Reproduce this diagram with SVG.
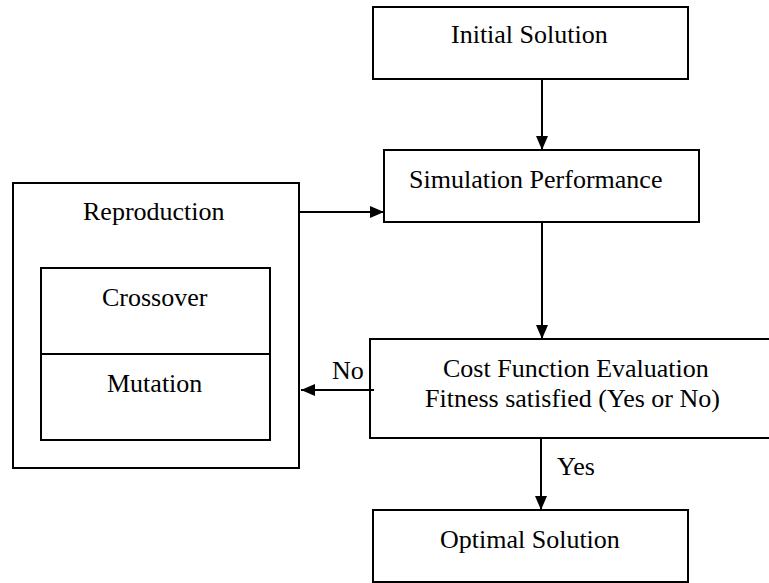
<svg xmlns="http://www.w3.org/2000/svg" width="769" height="583" viewBox="0 0 769 583">
<style>
rect{fill:#fff;stroke:#000;stroke-width:2}
.c line{stroke:#000;stroke-width:2}
</style>
<defs>
<marker id="ah" markerWidth="14" markerHeight="12" refX="14" refY="6" orient="auto" markerUnits="userSpaceOnUse">
<path d="M0,0 L14,6 L0,12 Z" fill="#000"/>
</marker>
</defs>
<rect width="769" height="583" style="stroke:none"/>
<g id="initial"><rect x="373" y="7" width="315" height="72"/><text font-family="Liberation Serif" font-size="26" x="451" y="43">Initial Solution</text></g>
<g id="simulation"><rect x="384" y="150" width="315" height="72"/><text font-family="Liberation Serif" font-size="26" x="409" y="188">Simulation Performance</text></g>
<g id="reproduction"><rect x="13" y="183" width="286" height="285"/><text font-family="Liberation Serif" font-size="26" x="83" y="220">Reproduction</text></g>
<g id="crossover"><rect x="41" y="268" width="229" height="86"/><text font-family="Liberation Serif" font-size="26" x="102" y="306">Crossover</text></g>
<g id="mutation"><rect x="41" y="354" width="229" height="86"/><text font-family="Liberation Serif" font-size="26" x="107" y="392">Mutation</text></g>
<g id="cost"><rect x="370" y="339" width="420" height="99"/><text font-family="Liberation Serif" font-size="26" x="443" y="377">Cost Function Evaluation</text><text font-family="Liberation Serif" font-size="26" x="425" y="407">Fitness satisfied (Yes or No)</text></g>
<g id="optimal"><rect x="373" y="510" width="315" height="72"/><text font-family="Liberation Serif" font-size="26" x="440" y="548">Optimal Solution</text></g>
<g class="c" id="connectors">
<line x1="542" y1="79" x2="542" y2="150" marker-end="url(#ah)"/>
<line x1="299" y1="212" x2="384" y2="212" marker-end="url(#ah)"/>
<line x1="542" y1="222" x2="542" y2="339" marker-end="url(#ah)"/>
<line x1="374" y1="390" x2="301" y2="390" marker-end="url(#ah)"/>
<line x1="541" y1="438" x2="541" y2="510" marker-end="url(#ah)"/>
<text font-family="Liberation Serif" font-size="26" x="332" y="379">No</text>
<text font-family="Liberation Serif" font-size="26" x="557" y="475">Yes</text>
</g>
</svg>
